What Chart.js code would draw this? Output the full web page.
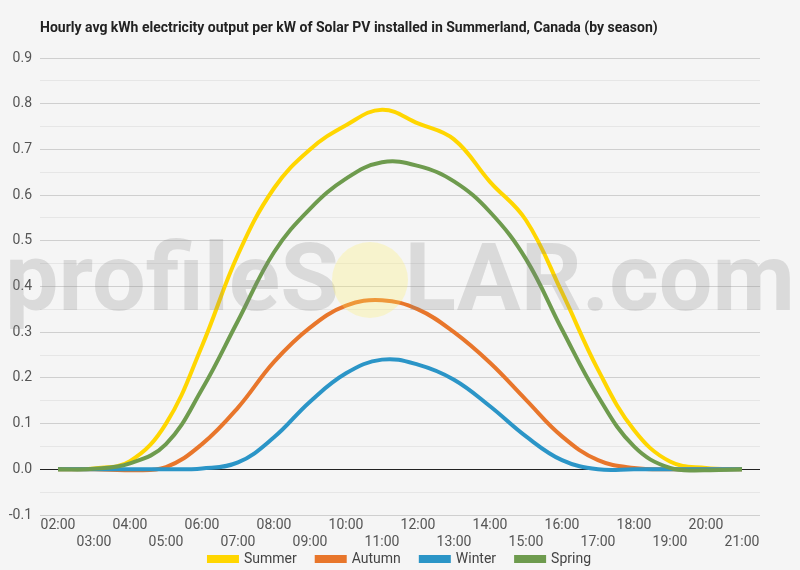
<!DOCTYPE html>
<html>
<head>
<meta charset="utf-8">
<script src="https://cdn.jsdelivr.net/npm/chart.js@4/dist/chart.umd.min.js"></script>
<style>
  html, body { margin: 0; padding: 0; background: #f5f5f5; }
  #wrap { width: 800px; height: 570px; position: relative; }
</style>
</head>
<body>
<div id="wrap"><canvas id="chart" width="800" height="570"></canvas></div>
<script>
const hours = ['02:00', '03:00', '04:00', '05:00', '06:00', '07:00', '08:00', '09:00', '10:00', '11:00',
               '12:00', '13:00', '14:00', '15:00', '16:00', '17:00', '18:00', '19:00', '20:00', '21:00'];
const titleText = 'Hourly avg kWh electricity output per kW of Solar PV installed in Summerland, Canada (by season)';

const summer = [0, 0.002, 0.018, 0.10, 0.27, 0.47, 0.615, 0.70, 0.753, 0.787,
                0.757, 0.722, 0.629, 0.545, 0.387, 0.218, 0.086, 0.017, 0.003, 0];
const autumn = [0, 0, -0.002, 0.005, 0.055, 0.135, 0.235, 0.31, 0.358, 0.37,
                0.35, 0.30, 0.233, 0.152, 0.072, 0.02, 0.003, 0, 0, 0];
const winter = [0, 0, 0, 0, 0.002, 0.015, 0.07, 0.148, 0.21, 0.24,
                0.229, 0.196, 0.138, 0.072, 0.02, 0, 0, 0, 0, 0];
const spring = [0, 0.001, 0.013, 0.055, 0.175, 0.325, 0.475, 0.57, 0.636, 0.672,
                0.664, 0.63, 0.563, 0.46, 0.306, 0.16, 0.05, 0.003, -0.002, 0];

// odd hours go on a second row, like the original
const xLabels = hours.map((h, i) => i % 2 === 0 ? h : ['', h]);

const FONT = 'Roboto, "Noto Sans", sans-serif';

function series(label, data, color, order) {
  return {
    label: label,
    data: data,
    borderColor: color,
    backgroundColor: color,
    borderWidth: 4,
    pointRadius: 0,
    pointHoverRadius: 0,
    tension: 0.4,
    fill: false,
    order: order,
    yAxisID: 'y'
  };
}

// title + the profileSOLAR watermark
const decor = {
  id: 'decor',
  afterDraw(chart) {
    const ctx = chart.ctx;
    ctx.save();
    ctx.fillStyle = '#222';
    ctx.font = 'bold 14px ' + FONT;
    ctx.textBaseline = 'middle';
    ctx.textAlign = 'left';
    ctx.fillText(titleText, 40, 28);

    // watermark
    ctx.font = 'bold 94px ' + FONT;
    ctx.textBaseline = 'alphabetic';
    const a = 'profileS', o = 'O', b = 'LAR.com';
    const wa = ctx.measureText(a).width, wo = ctx.measureText(o).width, wb = ctx.measureText(b).width;
    const k = 790 / (wa + wo + wb);
    ctx.translate(5, 310);
    ctx.scale(k, 1);
    ctx.fillStyle = 'rgba(128,128,128,0.23)';
    ctx.fillText(a, 0, 0);
    ctx.fillText(b, wa + wo, 0);
    ctx.setTransform(1, 0, 0, 1, 0, 0);
    ctx.fillStyle = 'rgba(255,240,100,0.27)';
    ctx.beginPath();
    ctx.arc(370, 280, 38, 0, Math.PI * 2);
    ctx.fill();
    ctx.restore();
  }
};

new Chart(document.getElementById('chart'), {
  type: 'line',
  data: {
    labels: xLabels,
    datasets: [
      series('Summer', summer, '#FFD600', 3),
      series('Autumn', autumn, '#E8762B', 2),
      series('Winter', winter, '#2B95C7', 1),
      series('Spring', spring, '#6E9B4E', 0)
    ]
  },
  options: {
    responsive: false,
    animation: false,
    layout: { padding: { top: 58, right: 0, left: 0, bottom: -6 } },
    plugins: {
      legend: {
        position: 'bottom',
        labels: {
          boxWidth: 28,
          boxHeight: 4,
          padding: 20,
          color: '#444',
          font: { family: FONT, size: 14 },
          sort: (a, b) => a.datasetIndex - b.datasetIndex
        }
      },
      tooltip: { enabled: false }
    },
    scales: {
      x: {
        offset: true,
        afterFit(scale) {
          // the axis box is kept short so the legend sits tight under it;
          // let the second row of labels draw past the box
          scale.height = 17;
          scale._computeLabelArea = () => undefined;
        },
        grid: { display: false, drawTicks: false, tickLength: 0 },
        border: { display: false },
        ticks: {
          autoSkip: false,
          maxRotation: 0,
          padding: 2,
          color: '#555',
          font: { family: FONT, size: 14 }
        }
      },
      y: {
        min: -0.1,
        max: 0.9,
        afterFit(scale) { scale.width = 40; },
        border: { display: false },
        grid: {
          drawTicks: false,
          color(c) {
            const v = Math.round(c.tick.value * 100);
            if (v === 0) return '#222';
            return v % 10 === 0 ? '#cfcfcf' : '#e6e6e6';
          }
        },
        ticks: {
          stepSize: 0.05,
          padding: 8,
          color: '#555',
          font: { family: FONT, size: 14 },
          callback(value) {
            const v = Math.round(value * 100);
            return v % 10 === 0 ? (v / 100).toFixed(1) : '';
          }
        }
      },
      // empty right-hand spacer so the plot ends where the original does
      yRight: {
        position: 'right',
        min: -0.1,
        max: 0.9,
        afterFit(scale) { scale.width = 40; },
        border: { display: false },
        grid: { display: false },
        ticks: { display: false }
      }
    }
  },
  plugins: [decor]
});
</script>
</body>
</html>
